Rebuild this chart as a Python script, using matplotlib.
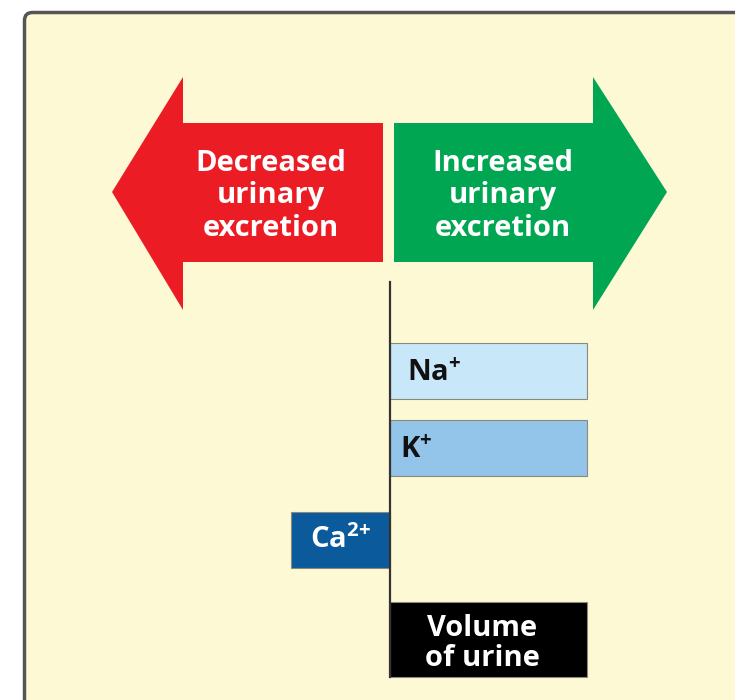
import matplotlib.pyplot as plt
from matplotlib.patches import Polygon, FancyBboxPatch

plt.rcParams['font.family'] = ['Open Sans', 'DejaVu Sans']
plt.rcParams['mathtext.fontset'] = 'custom'
plt.rcParams['mathtext.rm'] = 'Open Sans:bold'
plt.rcParams['mathtext.bf'] = 'Open Sans:bold'

# relative change in urinary excretion (+ = increased, - = decreased)
labels = ['Na$^{+}$', 'K$^{+}$', 'Ca$^{2{+}}$', 'Volume\nof urine']
values = [1.0, 1.0, -0.5, 1.0]
bar_colors = ['#c8e7f9', '#93c5ea', '#0a5a9c', '#000000']
text_colors = ['#111111', '#111111', 'white', 'white']

arrow_left_text = 'Decreased\nurinary\nexcretion'
arrow_right_text = 'Increased\nurinary\nexcretion'

# layout in pixel units
x0 = 390
unit = 197
y_centers = [371, 448, 540, 639.5]
heights = [56, 56, 56, 75]
label_pad = [17, 10, 0, 0]
label_dy = [2, 2, 0, 4]

fig = plt.figure(figsize=(7.35, 7.0), dpi=100)
ax = fig.add_axes([0, 0, 1, 1])
ax.set_xlim(0, 735)
ax.set_ylim(700, 0)
ax.axis('off')

panel = FancyBboxPatch((24.5, 12.5), 760, 720, boxstyle='round,pad=0,rounding_size=8',
                       facecolor='#fef9d5', edgecolor='#555555', linewidth=2.5, zorder=0)
ax.add_patch(panel)

# arrows
red = Polygon([(112, 192), (183, 77), (183, 123), (383, 123), (383, 262),
               (183, 262), (183, 310)], closed=True, facecolor='#ec1c24',
              edgecolor='none', zorder=1)
green = Polygon([(667, 192), (593, 77), (593, 123), (394, 123), (394, 262),
                 (593, 262), (593, 310)], closed=True, facecolor='#00a651',
                edgecolor='none', zorder=1)
ax.add_patch(red)
ax.add_patch(green)
ax.text(271, 196, arrow_left_text, ha='center', va='center', color='white',
        fontsize=21, fontweight='bold', linespacing=1.18, zorder=2)
ax.text(503, 196, arrow_right_text, ha='center', va='center', color='white',
        fontsize=21, fontweight='bold', linespacing=1.18, zorder=2)

# bars
widths = [v * unit for v in values]
ax.barh(y_centers, widths, height=heights, left=x0, color=bar_colors,
        edgecolor='#8a8a7a', linewidth=0.8, zorder=2)
ax.plot([x0, x0], [282, 677], color='#333333', linewidth=1.6, zorder=3)

for i, lab in enumerate(labels):
    if values[i] < 0:
        xt, ha = x0 + widths[i] / 2, 'center'
    elif '\n' in lab:
        xt, ha = x0 + widths[i] / 2 - 6, 'center'
    else:
        xt, ha = x0 + label_pad[i], 'left'
    ax.text(xt, y_centers[i] + label_dy[i], lab, ha=ha, va='center',
            color=text_colors[i], fontsize=21, fontweight='bold',
            linespacing=1.05, zorder=4)

fig.savefig('out.png', dpi=100)
